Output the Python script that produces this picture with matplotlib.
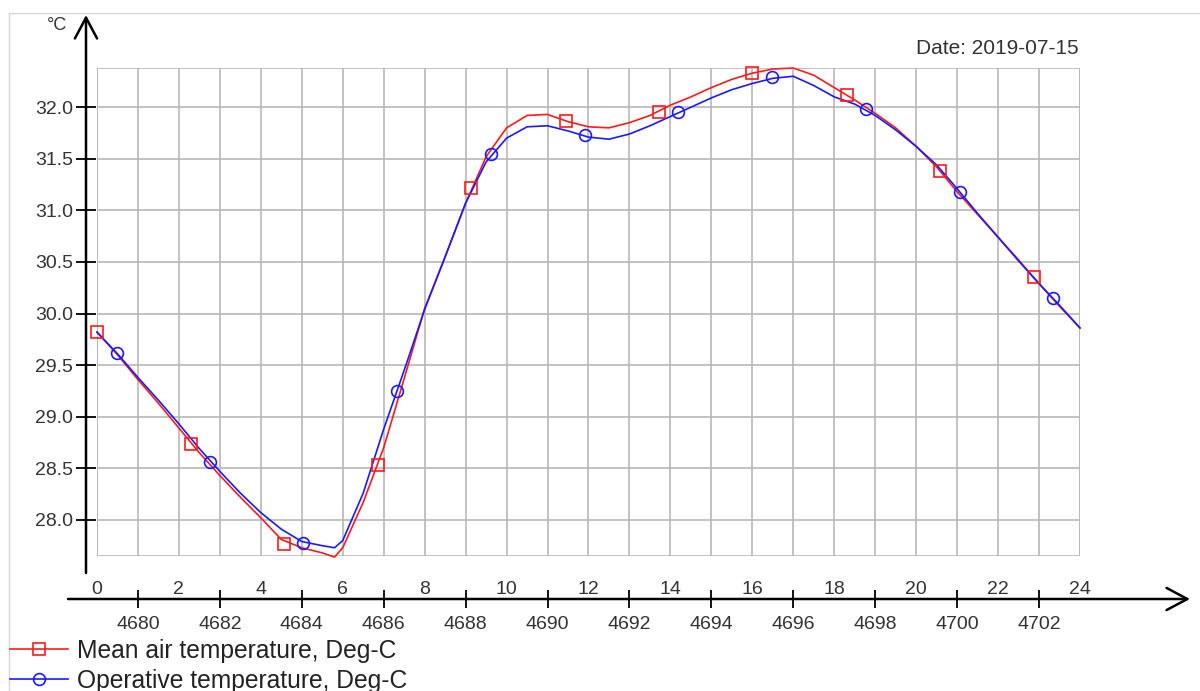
import numpy as np
import matplotlib
matplotlib.use('Agg')
import matplotlib.pyplot as plt
from matplotlib.lines import Line2D
from matplotlib.patches import Rectangle
import matplotlib.transforms as mtransforms

plt.rcParams['font.family'] = ['Liberation Sans', 'DejaVu Sans']

# ---------------- data ----------------
hours = [0, 0.5, 1, 1.5, 2, 2.5, 3, 3.5, 4, 4.5, 5, 5.5, 5.8, 6, 6.5, 7, 7.5, 8,
         8.5, 9, 9.5, 10, 10.5, 11, 11.5, 12, 12.5, 13, 13.5, 14, 14.5, 15, 15.5,
         16, 16.5, 17, 17.5, 18, 18.5, 19, 19.5, 20, 20.5, 21, 21.5, 22, 22.5,
         23, 23.5, 24]
mean_air = [29.82, 29.60, 29.36, 29.13, 28.89, 28.65, 28.43, 28.22, 28.02, 27.81,
            27.73, 27.68, 27.64, 27.73, 28.17, 28.70, 29.37, 30.05,
            30.55, 31.07, 31.52, 31.80, 31.92, 31.93, 31.86, 31.81, 31.80, 31.85,
            31.92, 32.02, 32.10, 32.19, 32.27, 32.33, 32.37, 32.38, 32.31, 32.19,
            32.07, 31.94, 31.80, 31.62, 31.42, 31.18, 30.96, 30.74, 30.52, 30.29,
            30.07, 29.86]
operative = [29.82, 29.61, 29.38, 29.16, 28.93, 28.69, 28.47, 28.26, 28.07, 27.91,
             27.79, 27.75, 27.73, 27.80, 28.26, 28.88, 29.45, 30.04,
             30.55, 31.07, 31.47, 31.70, 31.81, 31.82, 31.77, 31.71, 31.69, 31.74,
             31.82, 31.91, 32.00, 32.09, 32.17, 32.23, 32.28, 32.30, 32.21, 32.10,
             32.03, 31.92, 31.78, 31.62, 31.44, 31.21, 30.97, 30.74, 30.51, 30.29,
             30.08, 29.86]

mean_air_mark_h = [0, 2.29, 4.57, 6.86, 9.13, 11.45, 13.72, 16.0, 18.3, 20.58, 22.88]
mean_air_mark_v = [29.82, 28.74, 27.77, 28.53, 31.22, 31.87, 31.95, 32.33, 32.12, 31.38, 30.35]
operative_mark_h = [0.49, 2.76, 5.03, 7.32, 9.62, 11.91, 14.18, 16.48, 18.77, 21.07, 23.34]
operative_mark_v = [29.62, 28.56, 27.78, 29.25, 31.55, 31.73, 31.95, 32.29, 31.98, 31.18, 30.15]

y_ticks = [28.0, 28.5, 29.0, 29.5, 30.0, 30.5, 31.0, 31.5, 32.0]
hour_labels = [0, 2, 4, 6, 8, 10, 12, 14, 16, 18, 20, 22, 24]
step_ticks = [1, 3, 5, 7, 9, 11, 13, 15, 17, 19, 21, 23]
step_labels = ['4680', '4682', '4684', '4686', '4688', '4690', '4692', '4694',
               '4696', '4698', '4700', '4702']
series_names = ['Mean air temperature, Deg-C', 'Operative temperature, Deg-C']
date_text = 'Date: 2019-07-15'

# ---------------- figure ----------------
W, H = 1200, 691
fig = plt.figure(figsize=(12, 6.91), dpi=100)
fig.patch.set_facecolor('white')

# outer light frame
fig.add_artist(Rectangle((9 / W, -0.01), 1.0, 1 - 13 / H + 0.01,
                         transform=fig.transFigure, fill=False,
                         ec='#d6d6d6', lw=1.0))

ax = fig.add_axes([97 / W, (H - 556) / H, (1080 - 97) / W, (556 - 68) / H])
ax.set_xlim(0, 24)
ax.set_ylim(27.65, 32.38)

grid_c = '#b8b8b8'
ax.set_xticks(step_ticks)
ax.set_xticklabels(step_labels)
ax.set_xticks(hour_labels, minor=True)
ax.set_yticks(y_ticks)
ax.set_yticklabels([f'{v:.1f}' for v in y_ticks])
ax.grid(True, which='both', color=grid_c, lw=1.2)
ax.set_axisbelow(True)
ax.add_patch(Rectangle((0, 0), 1, 1, transform=ax.transAxes, fill=False,
                       ec=grid_c, lw=1.2, zorder=0.5))

for s in ['top', 'right']:
    ax.spines[s].set_visible(False)
ax.spines['left'].set_position(('outward', 11 * 0.72))
ax.spines['bottom'].set_position(('outward', 43 * 0.72))
ax.spines['left'].set_visible(False)
ax.spines['bottom'].set_visible(False)

tick_fs = 14
ax.tick_params(axis='y', direction='inout', length=15, width=1.3, color='black',
               labelsize=tick_fs, pad=2, labelcolor='#333333')
ax.tick_params(axis='x', which='major', direction='inout', length=13, width=1.3,
               color='black', labelsize=tick_fs, pad=6, labelcolor='#333333')
ax.tick_params(axis='x', which='minor', length=0, labelbottom=False)

# hour labels above the x axis line
trans = mtransforms.blended_transform_factory(ax.transData, ax.transAxes)
for h in hour_labels:
    ax.text(h, (556 - 589) / 488, str(h), transform=trans, ha='center',
            va='center', fontsize=tick_fs, color='#333333', clip_on=False)

# axis arrows
ax.annotate('', xy=((86 - 97) / 983, (556 - 15) / 488),
            xytext=((86 - 97) / 983, (556 - 573) / 488),
            xycoords='axes fraction', textcoords='axes fraction',
            arrowprops=dict(arrowstyle='->,head_length=0.6,head_width=0.32',
                            lw=1.8, color='black', mutation_scale=25,
                            shrinkA=0, shrinkB=0))
ax.annotate('', xy=((1190 - 97) / 983, (556 - 599) / 488),
            xytext=((68 - 97) / 983, (556 - 599) / 488),
            xycoords='axes fraction', textcoords='axes fraction',
            arrowprops=dict(arrowstyle='->,head_length=0.6,head_width=0.32',
                            lw=1.8, color='black', mutation_scale=25,
                            shrinkA=0, shrinkB=0))

# curves
red = '#ff1a1a'
blue = '#1a1aff'
ax.plot(hours, mean_air, color=red, lw=1.2, zorder=3, clip_on=False)
ax.plot(hours, operative, color=blue, lw=1.2, zorder=3, clip_on=False)
ax.plot(mean_air_mark_h, mean_air_mark_v, ls='none', marker='s', ms=8.5,
        mfc='none', mec=red, mew=1.2, zorder=4, clip_on=False)
ax.plot(operative_mark_h, operative_mark_v, ls='none', marker='o', ms=8.5,
        mfc='none', mec=blue, mew=1.2, zorder=4, clip_on=False)

# texts
fig.text(57 / W, 1 - 25 / H, '°C', ha='center', va='center', fontsize=13,
         color='#333333')
fig.text(1079 / W, 1 - 48 / H, date_text, ha='right', va='center',
         fontsize=15, color='#333333')

# legend
handles = [Line2D([], [], color=red, lw=1.2, marker='s', ms=8.5, mfc='none',
                  mec=red, mew=1.2),
           Line2D([], [], color=blue, lw=1.2, marker='o', ms=8.5, mfc='none',
                  mec=blue, mew=1.2)]
fig.legend(handles, series_names, loc='upper left',
           bbox_to_anchor=(10 / W, 1 - 639 / H), frameon=False, fontsize=17.7,
           handlelength=2.36, handletextpad=0.37, labelspacing=0.24,
           borderaxespad=0, borderpad=0, labelcolor='#222222')

fig.savefig('out.png', dpi=100)
